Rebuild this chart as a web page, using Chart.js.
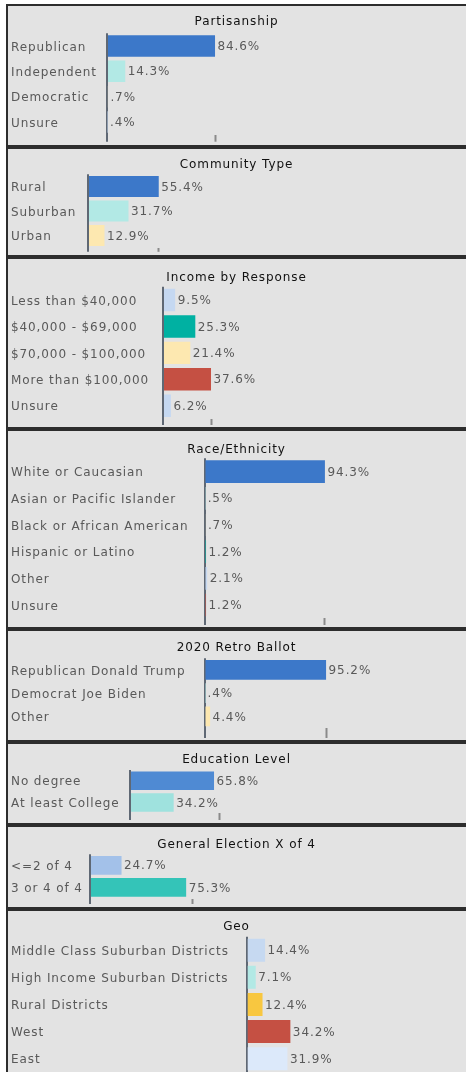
<!DOCTYPE html>
<html>
<head>
<meta charset="utf-8">
<title>Survey crosstabs</title>
<script src="https://cdn.jsdelivr.net/npm/chart.js@4.4.1/dist/chart.umd.min.js"></script>
<style>
    body { margin: 0; background: #fff; width: 466px; height: 1072px; overflow: hidden; position: relative; }
    .panel { position: absolute; left: 6px; width: 490px; box-sizing: border-box; border: 2px solid #2d2d2d; background: #e3e3e3; }
    .panel canvas { display: block; }
</style>
</head>
<body>
<div id="charts"></div>
<script>
// Partisanship
const partyLabels = ["Republican", "Independent", "Democratic", "Unsure"];
const partyValues = [84.6, 14.3, 0.7, 0.4];
const partyColors = ["#3c78c9", "#b2e9e5", "#fde8b0", "#c5d8f1"];

// Community type
const communityLabels = ["Rural", "Suburban", "Urban"];
const communityValues = [55.4, 31.7, 12.9];
const communityColors = ["#3c78c9", "#b2e9e5", "#fde8b0"];

// Income
const incomeLabels = ["Less than $40,000", "$40,000 - $69,000", "$70,000 - $100,000", "More than $100,000", "Unsure"];
const incomeValues = [9.5, 25.3, 21.4, 37.6, 6.2];
const incomeColors = ["#c5d8f1", "#00b1a2", "#fde8b0", "#c55043", "#c5d8f1"];

// Race / ethnicity
const raceLabels = ["White or Caucasian", "Asian or Pacific Islander", "Black or African American", "Hispanic or Latino", "Other", "Unsure"];
const raceValues = [94.3, 0.5, 0.7, 1.2, 2.1, 1.2];
const raceColors = ["#3c78c9", "#b2e9e5", "#fde8b0", "#00b1a2", "#c5d8f1", "#c55043"];

// 2020 ballot
const ballotLabels = ["Republican Donald Trump", "Democrat Joe Biden", "Other"];
const ballotValues = [95.2, 0.4, 4.4];
const ballotColors = ["#3c78c9", "#b2e9e5", "#fde8b0"];

// Education
const eduLabels = ["No degree", "At least College"];
const eduValues = [65.8, 34.2];
const eduColors = ["#4f8ad3", "#9fe2de"];

// General election turnout
const turnoutLabels = ["<=2 of 4", "3 or 4 of 4"];
const turnoutValues = [24.7, 75.3];
const turnoutColors = ["#a3c1e9", "#34c4b8"];

// Geography
const geoLabels = ["Middle Class Suburban Districts", "High Income Suburban Districts", "Rural Districts", "West", "East"];
const geoValues = [14.4, 7.1, 12.4, 34.2, 31.9];
const geoColors = ["#c6d9f1", "#b2e9e5", "#f8c740", "#c55043", "#dce9fa"];

const titles = ["Partisanship", "Community Type", "Income by Response", "Race/Ethnicity",
    "2020 Retro Ballot", "Education Level", "General Election X of 4", "Geo"];

// single tick mark shown on each value axis
const axisTicks = [84.6, 55.4, 37.6, 94.3, 95.2, 70, 80, 34.2];

const FONT = "'DejaVu Sans', sans-serif";
const TEXT_GRAY = "#595959";
const AXIS_GRAY = "#5f6874";
const PX_PER_PCT = 1.277;
const CANVAS_W = 464;
const PAD_L = 3;
const PAD_R = 10;

// box geometry of each panel: outer top/height, title centre, plot band top/bottom, axis overhang, axis x
const boxes = [
    { top: 4,   h: 143, titleY: 16,   plotTop: 27.3,  plotBottom: 128.7, tick: 7,   axisX: 107 },
    { top: 147, h: 110, titleY: 16,   plotTop: 25.2,  plotBottom: 100.2, tick: 4,   axisX: 88 },
    { top: 257, h: 172, titleY: 19.3, plotTop: 27.75, plotBottom: 160,   tick: 6,   axisX: 163 },
    { top: 429, h: 200, titleY: 19,   plotTop: 27.3,  plotBottom: 187.3, tick: 6.7, axisX: 204.5 },
    { top: 629, h: 113, titleY: 17.3, plotTop: 27.3,  plotBottom: 97,    tick: 10,  axisX: 204.5 },
    { top: 742, h: 83,  titleY: 16,   plotTop: 26,    plotBottom: 69.3,  tick: 6.7, axisX: 130 },
    { top: 825, h: 84,  titleY: 18,   plotTop: 27.3,  plotBottom: 71.5,  tick: 5.5, axisX: 90 },
    { top: 909, h: 183, titleY: 16.3, plotTop: 25.7,  plotBottom: 161.2, tick: 7,   axisX: 246.7 }
];

const series = [
    [partyLabels, partyValues, partyColors],
    [communityLabels, communityValues, communityColors],
    [incomeLabels, incomeValues, incomeColors],
    [raceLabels, raceValues, raceColors],
    [ballotLabels, ballotValues, ballotColors],
    [eduLabels, eduValues, eduColors],
    [turnoutLabels, turnoutValues, turnoutColors],
    [geoLabels, geoValues, geoColors]
];

// ".7%" style percentages
function pct(v) {
    const s = v.toFixed(1);
    return (v < 1 ? s.slice(1) : s) + "%";
}

// wider letter spacing, like the spreadsheet rendering
const spacing = {
    id: "spacing",
    beforeLayout(chart) { chart.ctx.letterSpacing = "0.9px"; },
    beforeDraw(chart) { chart.ctx.letterSpacing = "0.9px"; }
};

// value text at the end of each bar
const valueLabels = {
    id: "valueLabels",
    afterDatasetsDraw(chart) {
        const ctx = chart.ctx;
        const values = chart.data.datasets[0].data;
        ctx.save();
        ctx.font = "12px " + FONT;
        ctx.fillStyle = TEXT_GRAY;
        ctx.textAlign = "left";
        ctx.textBaseline = "middle";
        chart.getDatasetMeta(0).data.forEach((bar, i) => {
            ctx.fillText(pct(values[i]), bar.x + 2.5, bar.y + 1);
        });
        ctx.restore();
    }
};

const holder = document.getElementById("charts");

series.forEach(([labels, values, colors], i) => {
    const box = boxes[i];
    const innerH = box.h - 4;
    const panel = document.createElement("div");
    panel.className = "panel";
    panel.style.top = box.top + "px";
    panel.style.height = box.h + "px";
    const canvas = document.createElement("canvas");
    canvas.width = CANVAS_W;
    canvas.height = innerH;
    canvas.style.width = CANVAS_W + "px";
    canvas.style.height = innerH + "px";
    panel.appendChild(canvas);
    holder.appendChild(panel);

    const axisLeft = box.axisX - 8;
    const yWidth = axisLeft - PAD_L;
    const plotW = CANVAS_W - axisLeft - PAD_R;
    const titleTop = box.titleY - 7.2;

    new Chart(canvas.getContext("2d"), {
        type: "bar",
        data: {
            labels: labels,
            datasets: [{
                data: values,
                backgroundColor: colors,
                borderWidth: 0,
                categoryPercentage: 1,
                barPercentage: 0.85
            }]
        },
        options: {
            indexAxis: "y",
            responsive: false,
            animation: false,
            events: [],
            layout: {
                padding: { left: PAD_L, right: PAD_R, top: 0, bottom: innerH - box.plotBottom - box.tick }
            },
            plugins: {
                legend: { display: false },
                tooltip: { enabled: false },
                title: {
                    display: true,
                    text: titles[i],
                    color: "#111",
                    font: { family: FONT, size: 12, weight: "normal" },
                    padding: { top: titleTop, bottom: box.plotTop - titleTop - 14.4 }
                }
            },
            scales: {
                x: {
                    min: 0,
                    max: plotW / PX_PER_PCT,
                    z: 1,
                    afterBuildTicks: (scale) => {
                        scale.ticks = [{ value: 0 }, { value: axisTicks[i] }];
                    },
                    border: { display: false },
                    ticks: { display: false },
                    grid: {
                        drawOnChartArea: true,
                        drawTicks: true,
                        tickLength: box.tick,
                        color: (c) => c.index === 0 ? AXIS_GRAY : "transparent",
                        lineWidth: (c) => c.index === 0 ? 2 : 1,
                        tickColor: (c) => c.index === 0 ? AXIS_GRAY : "#8a8a8a",
                        tickWidth: 2
                    }
                },
                y: {
                    afterFit: (scale) => { scale.width = yWidth; },
                    border: { display: false },
                    grid: { display: false },
                    ticks: {
                        crossAlign: "far",
                        padding: 0,
                        labelOffset: 1.5,
                        color: TEXT_GRAY,
                        font: { family: FONT, size: 12 }
                    }
                }
            }
        },
        plugins: [spacing, valueLabels]
    });
});
</script>
</body>
</html>
